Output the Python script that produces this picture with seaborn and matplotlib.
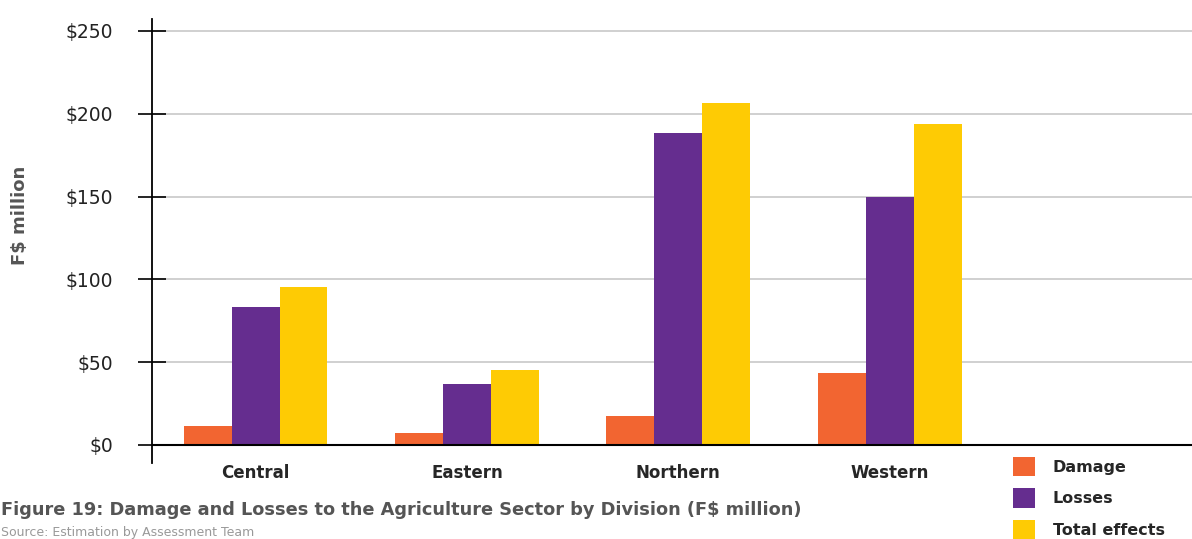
import seaborn as sns
import matplotlib.pyplot as plt
import pandas as pd
from matplotlib.patches import Patch

divisions = ['Central', 'Eastern', 'Northern', 'Western']
damage = [11.5, 7.0, 17.5, 43.5]
losses = [83.5, 37.0, 188.5, 150.0]
total = [95.5, 45.0, 206.5, 194.0]
series = ['Damage', 'Losses', 'Total effects']
colors = ['#F26531', '#652D8F', '#FECB04']
yticks = [0, 50, 100, 150, 200, 250]

df = pd.DataFrame({
    'division': divisions * 3,
    'series': [series[0]] * 4 + [series[1]] * 4 + [series[2]] * 4,
    'value': damage + losses + total,
})

sns.set_style("white")
plt.rcParams['font.family'] = ['DejaVu Sans']

fig = plt.figure(figsize=(11.92, 5.39), dpi=100)
ax = fig.add_axes([0.1275, 0.141, 0.8725, 0.823])

sns.barplot(data=df, x='division', y='value', hue='series',
            palette=colors, saturation=1, width=0.68, gap=0, ax=ax, legend=False,
            edgecolor='none', linewidth=0)

ax.set_xlim(-0.49, 4.43)
ax.set_ylim(-11, 257)
ax.set_yticks(yticks)
ax.set_yticklabels([f'${v}' for v in yticks], fontsize=13.5, color='#222222')
ax.grid(axis='y', color='#c8c8c8', lw=1.2)
ax.set_axisbelow(True)
ax.axhline(0, color='black', lw=1.5, zorder=5)

for s in ['top', 'right', 'bottom']:
    ax.spines[s].set_visible(False)
ax.spines['left'].set_color('black')
ax.spines['left'].set_linewidth(1.3)

ax.tick_params(axis='y', left=True, direction='inout', length=20, width=1.2, pad=18,
               color='black')
ax.tick_params(axis='x', bottom=False, length=0, pad=1)
for lbl in ax.get_xticklabels():
    lbl.set_fontweight('bold')
    lbl.set_fontsize(12)
ax.set_xlabel('')
ax.set_ylabel('')

fig.text(20 / 1192, 1 - 215 / 539, 'F$ million', rotation=90, ha='center', va='center',
         fontsize=13, fontweight='bold', color='#555555')

handles = [Patch(facecolor=c, edgecolor='none') for c in colors]
leg = fig.legend(handles, series, loc='upper left', bbox_to_anchor=(1013 / 1192, 1 - 457 / 539),
                 frameon=False, prop={'weight': 'bold', 'size': 11.5},
                 handlelength=1.4, handleheight=1.5, handletextpad=1.1, labelspacing=0.75,
                 borderaxespad=0, borderpad=0)

fig.text(1 / 1192, 1 - 510 / 539,
         'Figure 19: Damage and Losses to the Agriculture Sector by Division (F$ million)',
         ha='left', va='center', fontsize=12.8, fontweight='bold', color='#555555')
fig.text(1 / 1192, 1 - 526 / 539, 'Source: Estimation by Assessment Team',
         ha='left', va='top', fontsize=9, color='#999999')

fig.savefig('out.png', dpi=100)
